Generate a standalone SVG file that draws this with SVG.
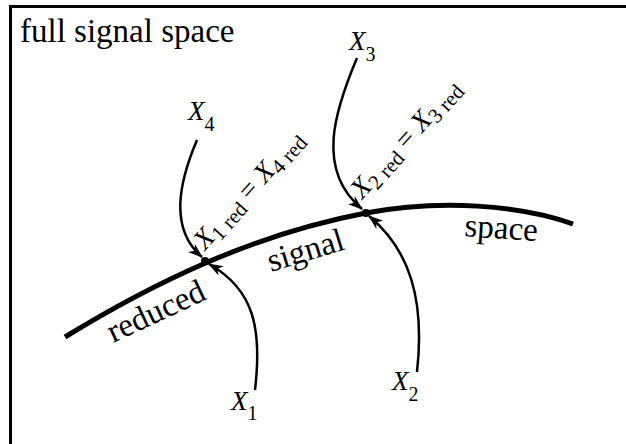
<svg xmlns="http://www.w3.org/2000/svg" width="626" height="444" viewBox="0 0 626 444">
<style>
text{font-family:"Liberation Serif","Times New Roman",serif;fill:#000}
.lbl{font-size:33px}
.x{font-size:27px}
.rx{font-size:28px}
.it{font-style:italic}
.sub{font-size:20px}
.rsub{font-size:21px}
.arr{fill:none;stroke:#000;stroke-width:2.5;marker-end:url(#ah)}
</style>
<defs>
<marker id="ah" viewBox="0 0 14 10" refX="13" refY="5" markerWidth="15" markerHeight="11" markerUnits="userSpaceOnUse" orient="auto">
<path d="M0,0 L14,5 L0,10 L4,5 Z" fill="#000"/>
</marker>
</defs>
<rect width="626" height="444" fill="#fff"/>
<path d="M10.5,444 V6.5 H626" fill="none" stroke="#000" stroke-width="3"/>
<text class="lbl" x="20" y="42">full signal space</text>
<g id="curve">
<path d="M65,337 C150,285 250,235 366,213 C440,199 520,205 573,224" fill="none" stroke="#000" stroke-width="5"/>
<text class="lbl" transform="translate(113,343) rotate(-25)">reduced</text>
<text class="lbl" transform="translate(271,272) rotate(-17)">signal</text>
<text class="lbl" transform="translate(464,236) rotate(4)">space</text>
</g>
<g id="p1">
<circle cx="205" cy="261" r="4"/>
<text class="rx" transform="translate(205,251) rotate(-48)"><tspan class="it">X</tspan><tspan class="rsub" dy="5">1 red</tspan><tspan dy="-5"> = </tspan><tspan class="it">X</tspan><tspan class="rsub" dy="5">4 red</tspan></text>
</g>
<g id="p2">
<circle cx="366" cy="213" r="4"/>
<text class="rx" transform="translate(362,200) rotate(-48)"><tspan class="it">X</tspan><tspan class="rsub" dy="5">2 red</tspan><tspan dy="-5"> = </tspan><tspan class="it">X</tspan><tspan class="rsub" dy="5">3 red</tspan></text>
</g>
<g id="x1"><text class="x" x="231" y="410"><tspan class="it">X</tspan><tspan class="sub" dy="10">1</tspan></text></g>
<g id="x2"><text class="x" x="392" y="390"><tspan class="it">X</tspan><tspan class="sub" dy="11">2</tspan></text></g>
<g id="x3"><text class="x" x="349" y="50"><tspan class="it">X</tspan><tspan class="sub" dy="11">3</tspan></text></g>
<g id="x4"><text class="x" x="188" y="120"><tspan class="it">X</tspan><tspan class="sub" dy="11">4</tspan></text></g>
<g id="connectors">
<path class="arr" d="M197,140 C180,180 168,228 202,257"/>
<path class="arr" d="M255,390 C262,330 255,290 209,264"/>
<path class="arr" d="M357,58 C335,110 315,170 362,209"/>
<path class="arr" d="M417,372 C425,300 410,250 369,216"/>
</g>
</svg>
